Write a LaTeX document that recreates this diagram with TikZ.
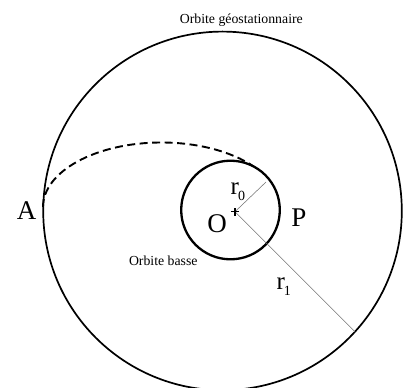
\documentclass[tikz,border=0pt]{standalone}
\usepackage{fontspec}
\setmainfont{Liberation Serif}
\begin{document}
\begin{tikzpicture}[x=1pt,y=-1pt,
  bigorbit/.style={line width=1.7pt},
  loworbit/.style={line width=2.3pt},
  transfer/.style={line width=1.9pt,dash pattern=on 8pt off 4.5pt},
  radline/.style={line width=0.55pt,draw=black!55},
  small/.style={inner sep=0pt,anchor=base,font=\fontsize{13.8}{16}\selectfont},
  big/.style={inner sep=0pt,anchor=base,font=\fontsize{27}{30}\selectfont},
  rlab/.style={inner sep=0pt,anchor=base west,font=\fontsize{25}{28}\selectfont}]
\useasboundingbox (0,0) rectangle (403,387);
\clip (0,0) rectangle (403,387);
\draw[bigorbit] (222.5,210.9) circle[radius=179.3];
\draw[loworbit] (230.5,210) circle[radius=49.3];
\coordinate (Apt) at (43,207);
\draw[transfer] (Apt) arc[start angle=180,end angle=321,x radius=118.5,y radius=64.5];
\coordinate (O) at (235,211.7);
\coordinate (r0end) at (266,182);
\coordinate (r1end) at (355,331.7);
\draw[radline] (O) -- (r0end);
\draw[radline] (O) -- (r1end);
\draw[line width=1.4pt] ([xshift=-4.2pt]O) -- ([xshift=4.2pt]O);
\draw[line width=1.4pt] ([yshift=-4.2pt]O) -- ([yshift=4.2pt]O);
\node[small] (geo) at (241.3,23.3) {Orbite géostationnaire};
\node[small] (basse) at (163.3,265) {Orbite basse};
\node[big] (A) at (26.7,219) {A};
\node[big] (Olab) at (217,232.5) {O};
\node[big] (P) at (299,226) {P};
\node[rlab] (r0) at (230.5,194) {r\kern-1pt\raisebox{-6pt}{\fontsize{14}{16}\selectfont 0}};
\node[rlab] (r1) at (276.3,289) {r\kern-1pt\raisebox{-6pt}{\fontsize{14}{16}\selectfont 1}};
\end{tikzpicture}
\end{document}
